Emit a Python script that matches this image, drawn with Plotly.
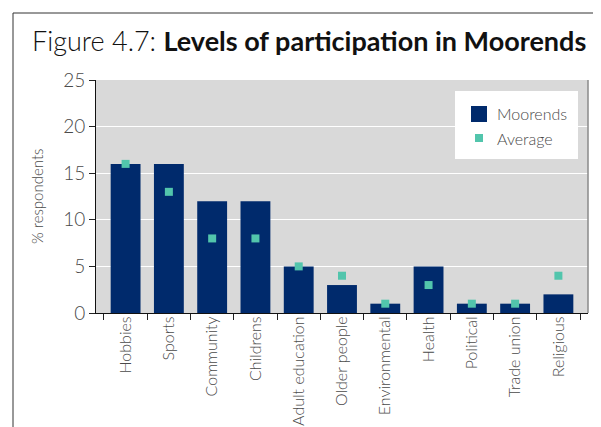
import plotly.graph_objects as go

categories = ["Hobbies", "Sports", "Community", "Childrens", "Adult education",
              "Older people", "Environmental", "Health", "Political", "Trade union", "Religious"]
moorends = [16, 16, 12, 12, 5, 3, 1, 5, 1, 1, 2]
average = [16, 13, 8, 8, 5, 4, 1, 3, 1, 1, 4]
y_ticks = [0, 5, 10, 15, 20, 25]

TXT = "#4a4a4a"
FONT = "Lato"
NAVY = "#002a6c"
TEAL = "#52c5ac"

fig = go.Figure()
fig.add_trace(go.Bar(x=categories, y=moorends, name="Moorends",
                     marker=dict(color=NAVY, line=dict(width=0))))
fig.add_trace(go.Scatter(x=categories, y=average, name="Average", mode="markers",
                         marker=dict(symbol="square", size=8, color=TEAL,
                                     line=dict(width=0))))

# page body has an 8px margin; work in screen coordinates and shift
OFF = 8
W, H = 601 - OFF, 427 - OFF
PL, PR, PT, PB = 96, 588, 80, 313  # plot area in screen pixels
L, R, T, B = PL - OFF, W - (PR - OFF), PT - OFF, H - (PB - OFF)
pw, ph = W - L - R, H - T - B

def px(x):
    return (x - PL) / pw

def py(y):
    return (PB - y) / ph

def rect(x0, y0, x1, y1, color):
    return dict(type="rect", xref="paper", yref="paper", x0=px(x0), x1=px(x1),
                y0=py(y1), y1=py(y0), fillcolor=color, line=dict(width=0),
                layer="above")

LIGHT = dict(family=FONT, color=TXT, weight=300)

fig.update_layout(
    width=W, height=H,
    margin=dict(l=L, r=R, t=T, b=B, pad=0, autoexpand=False),
    paper_bgcolor="white",
    plot_bgcolor="#d9d9d9",
    bargap=0.31,
    showlegend=False,
    font=dict(family=FONT, color=TXT),
    xaxis=dict(type="category", tickson="boundaries", ticks="outside", ticklen=6,
               tickcolor="#222", tickwidth=1, showline=True, linecolor="#111",
               linewidth=1, tickangle=-90, showgrid=False, automargin=False,
               ticklabelstandoff=-4,
               tickfont=dict(size=16, **LIGHT)),
    yaxis=dict(range=[0, 25], tickvals=y_ticks, ticks="outside", ticklen=6,
               tickcolor="#222", showline=True, linecolor="#111", linewidth=1,
               gridcolor="white", gridwidth=1, zeroline=False, automargin=False,
               tickfont=dict(size=19, **LIGHT)),
    shapes=[
        dict(type="line", xref="paper", yref="paper", x0=px(13), x1=px(620),
             y0=py(13), y1=py(13), line=dict(color="#333", width=1)),
        dict(type="line", xref="paper", yref="paper", x0=px(13), x1=px(13),
             y0=py(13), y1=py(440), line=dict(color="#333", width=1)),
        dict(type="line", xref="paper", yref="paper", x0=1, x1=1,
             y0=0, y1=1, line=dict(color="#8a8a8a", width=1.5)),
        rect(455, 91, 578, 159, "white"),
        rect(471, 106, 487, 122, NAVY),
        rect(475, 134, 483, 142, TEAL),
    ],
    annotations=[
        dict(xref="paper", yref="paper", x=px(30), y=py(41), xanchor="left",
             yanchor="middle", showarrow=False,
             text="<span style='font-weight:300'>Figure 4.7: </span><b>Levels of participation in Moorends</b>",
             font=dict(size=27, color="#111", family=FONT)),
        dict(xref="paper", yref="paper", x=px(37), y=py(196), xanchor="center",
             yanchor="middle", showarrow=False, textangle=-90,
             text="% respondents", font=dict(size=15, **LIGHT)),
        dict(xref="paper", yref="paper", x=px(495), y=py(114), xanchor="left",
             yanchor="middle", showarrow=False, text="Moorends",
             font=dict(size=16, **LIGHT)),
        dict(xref="paper", yref="paper", x=px(495), y=py(138), xanchor="left",
             yanchor="middle", showarrow=False, text="Average",
             font=dict(size=16, **LIGHT)),
    ],
)

fig.write_html("out.html")
